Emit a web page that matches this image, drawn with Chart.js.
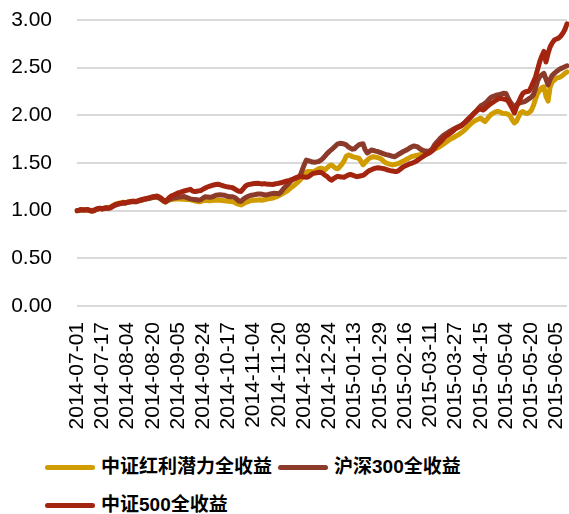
<!DOCTYPE html>
<html>
<head>
<meta charset="utf-8">
<script src="https://cdn.jsdelivr.net/npm/chart.js@4.4.1/dist/chart.umd.min.js"></script>
<style>
  html, body { margin: 0; padding: 0; background: #fff; }
  #wrap { position: relative; width: 569px; height: 514px; overflow: hidden; }
  #c { position: absolute; left: 0; top: 0; }
  .lg { position: absolute; display: flex; align-items: center; height: 24px; line-height: 24px; font-family: "Liberation Sans", "Noto Sans CJK SC", sans-serif; font-size: 19px; font-weight: bold; color: #000; white-space: nowrap; }
  .lg .ln { width: 50px; height: 5px; border-radius: 3px; margin-right: 6px; }
</style>
</head>
<body>
<div id="wrap">
  <canvas id="c" width="569" height="440"></canvas>
  <div class="lg" style="left:45px; top:455px;"><span class="ln" style="background:#D09C00"></span><span>中证红利潜力全收益</span></div>
  <div class="lg" style="left:278px; top:455px;"><span class="ln" style="background:#8C3B2B"></span><span>沪深300全收益</span></div>
  <div class="lg" style="left:45px; top:493px;"><span class="ln" style="background:#A3250F"></span><span>中证500全收益</span></div>
</div>
<script>
// ---- categories: trading days 2014-07-01 .. 2015-06-12 (SSE calendar) ----
const startDate = "2014-07-01";
const endDate = "2015-06-12";
const holidays = ["2014-09-08","2014-10-01","2014-10-02","2014-10-03","2014-10-06","2014-10-07",
  "2015-01-01","2015-01-02","2015-02-18","2015-02-19","2015-02-20","2015-02-23","2015-02-24",
  "2015-04-06","2015-05-01"];
const tickLabels = ["2014-07-01","2014-07-17","2014-08-04","2014-08-20","2014-09-05","2014-09-24",
  "2014-10-17","2014-11-04","2014-11-20","2014-12-08","2014-12-24","2015-01-13","2015-01-29",
  "2015-02-16","2015-03-11","2015-03-27","2015-04-15","2015-05-04","2015-05-20","2015-06-05"];
const seriesNames = ["中证红利潜力全收益","沪深300全收益","中证500全收益"];

const dividendPotential = [
1.000,1.002,1.008,1.004,1.006,1.010,1.000,0.994,0.998,1.010,
1.020,1.024,1.020,1.028,1.032,1.030,1.038,1.054,1.066,1.074,
1.080,1.082,1.088,1.084,1.090,1.092,1.096,1.098,1.094,1.100,
1.106,1.112,1.118,1.124,1.128,1.134,1.140,1.142,1.146,1.136,
1.120,1.102,1.090,1.102,1.112,1.118,1.120,1.122,1.124,1.122,
1.120,1.120,1.118,1.116,1.114,1.108,1.102,1.098,1.094,1.096,
1.104,1.110,1.106,1.104,1.106,1.110,1.112,1.110,1.108,1.106,
1.104,1.100,1.098,1.096,1.094,1.086,1.074,1.066,1.060,1.070,
1.084,1.092,1.100,1.106,1.110,1.110,1.112,1.114,1.110,1.114,
1.120,1.124,1.128,1.132,1.140,1.147,1.158,1.170,1.182,1.195,
1.208,1.228,1.245,1.262,1.280,1.300,1.320,1.350,1.380,1.405,
1.412,1.410,1.408,1.415,1.428,1.440,1.446,1.440,1.430,1.450,
1.470,1.480,1.462,1.445,1.440,1.462,1.490,1.520,1.570,1.584,
1.578,1.566,1.560,1.556,1.550,1.520,1.482,1.505,1.530,1.548,
1.560,1.566,1.562,1.556,1.550,1.535,1.515,1.500,1.492,1.486,
1.480,1.484,1.490,1.497,1.506,1.518,1.530,1.542,1.554,1.566,
1.572,1.578,1.582,1.586,1.592,1.598,1.604,1.612,1.622,1.634,
1.645,1.655,1.665,1.680,1.695,1.710,1.726,1.742,1.756,1.766,
1.780,1.792,1.806,1.822,1.840,1.860,1.885,1.905,1.925,1.940,
1.952,1.962,1.970,1.950,1.935,1.960,1.990,2.010,2.025,2.035,
2.042,2.036,2.024,2.018,2.020,2.010,1.995,1.950,1.920,1.940,
1.985,2.030,2.040,2.025,2.020,2.030,2.050,2.100,2.170,2.230,
2.260,2.290,2.300,2.200,2.150,2.300,2.350,2.370,2.390,2.395,
2.405,2.420,2.440,2.455];

const csi300 = [
1.000,1.004,1.010,1.006,1.008,1.010,1.002,0.996,1.000,1.012,
1.018,1.022,1.018,1.022,1.026,1.024,1.030,1.044,1.056,1.064,
1.070,1.074,1.080,1.078,1.086,1.090,1.094,1.096,1.092,1.100,
1.106,1.112,1.118,1.122,1.126,1.132,1.138,1.140,1.142,1.134,
1.120,1.104,1.092,1.106,1.118,1.128,1.132,1.136,1.140,1.142,
1.146,1.148,1.140,1.130,1.124,1.120,1.118,1.114,1.110,1.116,
1.134,1.146,1.144,1.140,1.142,1.152,1.162,1.164,1.166,1.164,
1.162,1.154,1.148,1.147,1.146,1.138,1.120,1.100,1.098,1.118,
1.136,1.147,1.155,1.162,1.166,1.170,1.174,1.176,1.172,1.166,
1.165,1.170,1.176,1.180,1.182,1.180,1.178,1.195,1.225,1.250,
1.270,1.295,1.318,1.335,1.345,1.352,1.362,1.420,1.480,1.530,
1.525,1.518,1.510,1.508,1.512,1.516,1.530,1.550,1.575,1.600,
1.622,1.640,1.660,1.682,1.700,1.706,1.704,1.700,1.690,1.670,
1.656,1.645,1.650,1.672,1.690,1.698,1.702,1.640,1.605,1.620,
1.636,1.632,1.625,1.620,1.612,1.604,1.595,1.588,1.584,1.578,
1.570,1.566,1.578,1.592,1.605,1.618,1.630,1.640,1.655,1.668,
1.678,1.675,1.668,1.650,1.636,1.630,1.625,1.622,1.630,1.650,
1.690,1.715,1.740,1.765,1.785,1.800,1.815,1.830,1.842,1.855,
1.866,1.878,1.888,1.900,1.915,1.935,1.955,1.975,2.000,2.025,
2.050,2.075,2.100,2.110,2.125,2.145,2.170,2.190,2.200,2.208,
2.215,2.220,2.226,2.232,2.230,2.180,2.140,2.110,2.085,2.110,
2.125,2.135,2.140,2.145,2.160,2.175,2.190,2.215,2.280,2.360,
2.405,2.425,2.440,2.380,2.320,2.380,2.420,2.440,2.460,2.476,
2.490,2.500,2.510,2.520];

const csi500 = [
1.000,1.005,1.012,1.008,1.010,1.012,1.004,0.998,1.002,1.015,
1.022,1.025,1.020,1.026,1.030,1.028,1.034,1.048,1.060,1.068,
1.075,1.078,1.085,1.082,1.090,1.094,1.098,1.100,1.096,1.104,
1.112,1.118,1.124,1.128,1.132,1.140,1.146,1.150,1.154,1.145,
1.132,1.112,1.094,1.118,1.140,1.155,1.164,1.175,1.186,1.192,
1.200,1.206,1.212,1.218,1.224,1.205,1.200,1.204,1.208,1.212,
1.225,1.238,1.248,1.256,1.262,1.270,1.274,1.277,1.272,1.264,
1.258,1.252,1.248,1.244,1.240,1.228,1.214,1.204,1.202,1.228,
1.255,1.270,1.276,1.280,1.284,1.286,1.288,1.284,1.280,1.284,
1.280,1.278,1.276,1.275,1.280,1.284,1.288,1.292,1.300,1.306,
1.312,1.318,1.325,1.332,1.340,1.352,1.362,1.358,1.352,1.350,
1.356,1.372,1.388,1.394,1.398,1.402,1.400,1.388,1.370,1.357,
1.334,1.320,1.336,1.350,1.360,1.356,1.352,1.350,1.362,1.374,
1.380,1.372,1.364,1.357,1.360,1.366,1.370,1.385,1.405,1.420,
1.430,1.440,1.446,1.450,1.448,1.444,1.440,1.432,1.426,1.420,
1.416,1.412,1.410,1.422,1.440,1.458,1.468,1.478,1.490,1.497,
1.505,1.515,1.530,1.545,1.560,1.575,1.590,1.600,1.612,1.630,
1.655,1.685,1.705,1.725,1.750,1.775,1.790,1.805,1.820,1.840,
1.860,1.872,1.880,1.895,1.915,1.940,1.962,1.982,2.005,2.025,
2.045,2.065,2.065,2.055,2.070,2.090,2.110,2.126,2.140,2.155,
2.170,2.180,2.176,2.170,2.165,2.150,2.110,2.070,2.025,2.090,
2.140,2.190,2.230,2.245,2.250,2.255,2.300,2.350,2.400,2.480,
2.560,2.620,2.670,2.560,2.650,2.720,2.760,2.790,2.800,2.810,
2.830,2.860,2.900,2.960];

// build trading-day categories
function fmt(d){ const m=d.getUTCMonth()+1, dd=d.getUTCDate(); return d.getUTCFullYear()+"-"+(m<10?"0":"")+m+"-"+(dd<10?"0":"")+dd; }
const categories = [];
for (let d = new Date(startDate+"T00:00:00Z"); fmt(d) <= endDate; d.setUTCDate(d.getUTCDate()+1)) {
  const wd = d.getUTCDay(); const s = fmt(d);
  if (wd === 0 || wd === 6 || holidays.includes(s)) continue;
  categories.push(s);
}

const font = { family: "'Liberation Sans', Arial, sans-serif", size: 21 };
new Chart(document.getElementById('c'), {
  type: 'line',
  data: {
    labels: categories,
    datasets: [
      { label: seriesNames[0], data: dividendPotential, borderColor: '#D09C00', order: 3 },
      { label: seriesNames[1], data: csi300, borderColor: '#8C3B2B', order: 2 },
      { label: seriesNames[2], data: csi500, borderColor: '#A3250F', order: 1 }
    ].map(d => Object.assign(d, { borderWidth: 5, pointRadius: 0, fill: false, tension: 0, borderCapStyle: 'round', borderJoinStyle: 'round' }))
  },
  options: {
    responsive: false,
    animation: false,
    layout: { padding: { top: 20, right: 2, bottom: 11, left: 0 } },
    plugins: { legend: { display: false }, tooltip: { enabled: false } },
    scales: {
      x: {
        grid: { display: false, drawTicks: false },
        border: { display: false },
        ticks: {
          autoSkip: false, maxRotation: 90, minRotation: 90, padding: 16,
          color: '#000', font: font,
          callback: function(v, i) { const l = categories[i]; return tickLabels.includes(l) ? l : ''; }
        },
        afterFit: s => { s.height = 123; s.paddingLeft = 0; s.paddingRight = 0; s.paddingTop = 0; s.paddingBottom = 0; }
      },
      y: {
        min: 0, max: 3,
        grid: { color: '#D9D9D9', lineWidth: 2, drawTicks: false },
        border: { display: false },
        ticks: { stepSize: 0.5, padding: 25, color: '#000', font: font, callback: v => Number(v).toFixed(2) },
        afterFit: s => { s.width = 77; s.paddingTop = 0; s.paddingBottom = 0; s.paddingLeft = 0; s.paddingRight = 0; }
      }
    }
  }
});
</script>
</body>
</html>
